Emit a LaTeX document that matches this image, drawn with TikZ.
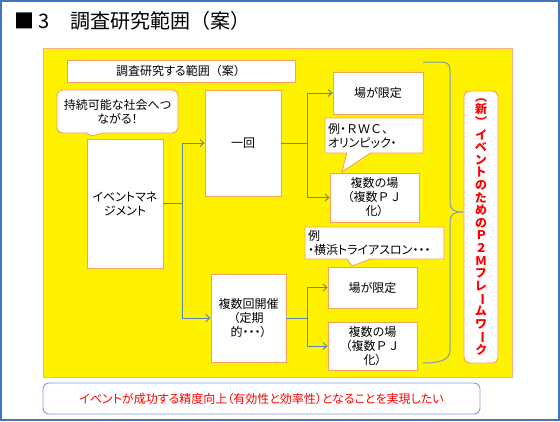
\documentclass[tikz,border=0pt]{standalone}
\usepackage{fontspec}
\setmainfont[RawFeature=+palt]{Noto Sans CJK JP}
\newfontfamily\zenkaku{Noto Sans CJK JP}
\usepackage{graphicx}
\usetikzlibrary{arrows.meta,positioning,shapes.callouts}
\definecolor{frameblue}{HTML}{4472C4}
\definecolor{paneline}{HTML}{F4B183}
\definecolor{boxline}{HTML}{F7A05A}
\definecolor{arrowblue}{HTML}{5B82B4}
\definecolor{braceblue}{HTML}{7F9CB4}
\definecolor{goalblue}{HTML}{7F9FD3}
\newcommand{\tatebar}{\rotatebox[origin=c]{-90}{ー}}
\tikzset{
  box/.style={draw=boxline, fill=white, line width=0.9pt, align=center, inner sep=1pt,
    font=\fontsize{12}{14}\selectfont},
  note/.style={rectangle callout, draw=boxline, fill=white, line width=0.9pt, align=left,
    inner sep=1pt, callout pointer width=24pt, font=\fontsize{12}{14}\selectfont},
  vlabel/.style={box, rounded corners=6pt, text=red, inner sep=0pt,
    font=\fontsize{12}{12.6}\selectfont\bfseries},
  arrow/.style={-{Straight Barb[length=4pt,width=7pt]}, draw=arrowblue, line width=0.9pt}
}

\begin{document}
\begin{tikzpicture}[x=1pt, y=-1pt]
    \useasboundingbox (0,0) rectangle (560,421);
    \draw[frameblue, line width=1.3pt] (1,1) rectangle (559,420);
    \node[anchor=west, font=\fontsize{20}{24}\selectfont] (title) at (11,21) {■ 3　調査研究範囲{\zenkaku（案）}};

    % yellow panel
    \draw[draw=paneline, fill=yellow, line width=1pt] (43,48) rectangle (512,377);
    \node[box, minimum width=228pt, minimum height=22pt] (head) at (181,71) {調査研究する範囲{\zenkaku（案）}};
    \node[note, rounded corners=6pt, align=center, callout pointer width=16pt,
      callout absolute pointer={(90,137)}, minimum width=121pt, minimum height=43pt]
      (goal) at (117.5,111.5) {持続可能な社会へつ\\ながる！};

    \node[box, minimum width=76pt, minimum height=129pt] (mgmt) at (125,203.5) {イベントマネ\\ジメント};
    \node[box, minimum width=76pt, minimum height=106pt] (once) at (243,143) {一回};
    \node[box, minimum width=75pt, minimum height=88pt] (multi) at (248.5,318) {複数回開催\\（定期\\的・・・）};

    \node[box, minimum width=90pt, minimum height=42pt] (limA) at (378,93) {場が限定};
    \node[box, minimum width=89pt, minimum height=49pt] (manyA) at (374.5,197.5) {複数の場\\（複数{\zenkaku ＰＪ}\\化）};
    \node[note, callout absolute pointer={(342,172)}, minimum width=98pt, minimum height=35pt,
      text width=92pt] (exA) at (374,135.5) {例・{\zenkaku ＲＷＣ、}\\オリンピック・};

    \node[box, minimum width=89pt, minimum height=41pt] (limB) at (372.5,287.5) {場が限定};
    \node[box, minimum width=89pt, minimum height=48pt] (manyB) at (372.5,346) {複数の場\\（複数{\zenkaku ＰＪ}\\化）};
    \node[note, callout absolute pointer={(352,266)}, minimum width=139pt, minimum height=32pt,
      text width=133pt] (exB) at (374.5,243) {例\\・横浜トライアスロン・・・};

    \draw[arrow] (mgmt.east) -- ++(19,0) |- (once.west);
    \draw[arrow] (mgmt.east) -- ++(19,0) |- (multi.west);
    \draw[arrow] (once.east) -- ++(26,0) |- (limA.west);
    \draw[arrow] (once.east) -- ++(26,0) |- (manyA.west);
    \draw[arrow] (multi.east) -- ++(21,0) |- (limB.west);
    \draw[arrow] (multi.east) -- ++(21,0) |- (manyB.west);

    % brace and framework label
    \draw[braceblue, line width=1pt] (423,62) -- (440,62) .. controls (448,62) and (450,64) .. (450,72)
      -- (450,202) .. controls (450,210) and (454,212) .. (463,212)
      .. controls (454,212) and (450,214) .. (450,222)
      -- (450,350) .. controls (450,360) and (440,363) .. (423,363);
    \node[vlabel, minimum width=34pt, minimum height=272pt] (frame) at (481,227)
      {︵\\新\\︶\\イ\\ベ\\ン\\ト\\の\\た\\め\\の\\Ｐ\\２\\Ｍ\\フ\\レ\\\tatebar\\ム\\ワ\\\tatebar\\ク};

    \node[box, draw=goalblue, rounded corners=6pt, text=red, minimum width=437pt, minimum height=31pt]
      (aim) at (261.5,398.5) {イベントが成功する精度向上（有効性と効率性）となることを実現したい};
\end{tikzpicture}
\end{document}
